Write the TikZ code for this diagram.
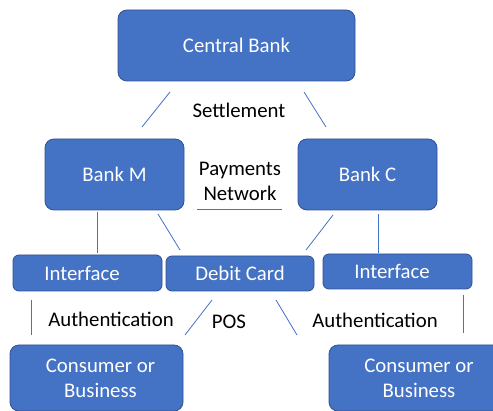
\documentclass[tikz,border=0pt]{standalone}
\usepackage{fontspec}
\setmainfont{Carlito}
\usepackage{xcolor}
\usepackage{tikz}
\usetikzlibrary{positioning,calc}
\definecolor{boxblue}{HTML}{4472C4}
\definecolor{edgeblue}{HTML}{2F528F}
\newcommand{\lblfont}{\fontsize{20.8}{25}\selectfont}
\tikzset{
  blk/.style  ={draw=edgeblue, rectangle, rounded corners=9pt, align=center, fill=boxblue, text=white, line width=0.8pt, inner sep=0pt, font=\lblfont},
  ifc/.style  ={blk, rounded corners=6pt},
  lbl/.style  ={align=center, inner sep=0pt, font=\lblfont},
  ln/.style   ={draw=boxblue, line width=0.8pt},
}

\begin{document}
\begin{tikzpicture}[x=1pt, y=-1pt]
  \useasboundingbox (0,0) rectangle (493,411);

  \node[blk, minimum width=237pt, minimum height=71pt] (cb) at (236.5,45.5) {Central Bank};
  \node[blk, minimum width=139pt, minimum height=71pt] (bm) at (114.5,174.5) {Bank M};
  \node[blk, minimum width=139pt, minimum height=71pt] (bc) at (367.5,174.5) {Bank C};

  \node[ifc, minimum width=149pt, minimum height=36pt] (ifm) at (87.5,273) {\hspace*{-11pt}Interface};
  \node[ifc, minimum width=148pt, minimum height=35pt] (dc)  at (240,273.5) {Debit Card};
  \node[ifc, minimum width=149pt, minimum height=35pt] (ifc) at (397.5,271.5) {\hspace*{-11pt}Interface};

  \node[blk, minimum width=173pt, minimum height=66pt] (cm) at (96.5,378) {\hspace*{8pt}Consumer or\\\hspace*{8pt}Business};
  \node[blk, minimum width=180pt, minimum height=66pt] (cc) at (419,378) {Consumer or\\Business};

  \node[lbl] (settle) at (239,110) {Settlement};
  \node[lbl] (paynet) at (240,181) {Payments\\Network};
  \node[lbl] (authm)  at (111,319) {Authentication};
  \node[lbl] (pos)    at (229,322) {POS};
  \node[lbl] (authc)  at (375,320) {Authentication};

  % line ends
  \coordinate (cbm1) at (170,92);  \coordinate (cbm2) at (142,127);
  \coordinate (cbc1) at (304,92);  \coordinate (cbc2) at (326,127);
  \coordinate (pn1)  at (197,209); \coordinate (pn2)  at (282,209);
  \coordinate (bmi1) at (97,212);  \coordinate (bmi2) at (97,253);
  \coordinate (bmd1) at (158,214); \coordinate (bmd2) at (180,250);
  \coordinate (bcd1) at (333,215); \coordinate (bcd2) at (306,250);
  \coordinate (bci1) at (378,214); \coordinate (bci2) at (378,253);
  \coordinate (am1)  at (31,300);  \coordinate (am2)  at (31,335);
  \coordinate (pm1)  at (212,300); \coordinate (pm2)  at (185,335);
  \coordinate (pc1)  at (276,300); \coordinate (pc2)  at (297,335);
  \coordinate (ac1)  at (463,295); \coordinate (ac2)  at (463,333);

  \foreach \a/\b in {cbm1/cbm2, cbc1/cbc2, pn1/pn2, bmi1/bmi2, bmd1/bmd2,
                     bcd1/bcd2, bci1/bci2, am1/am2, pm1/pm2, pc1/pc2, ac1/ac2}
    \draw[ln] (\a) -- (\b);
\end{tikzpicture}
\end{document}
